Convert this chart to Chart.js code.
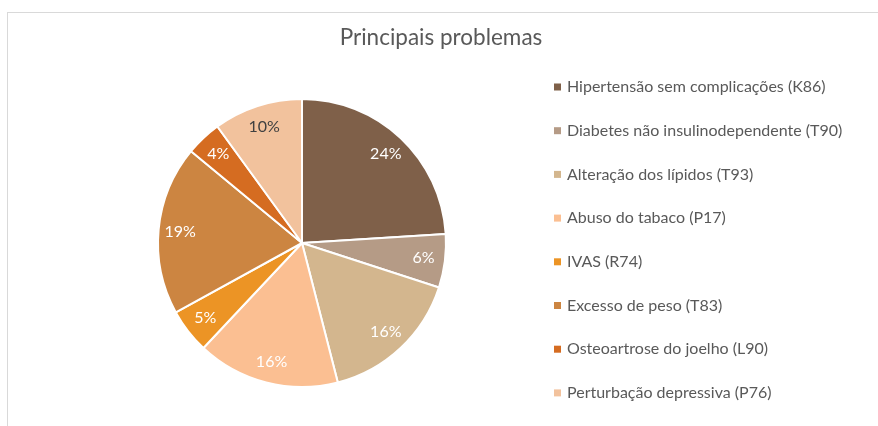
<!DOCTYPE html>
<html>
<head>
<meta charset="utf-8">
<script src="https://cdn.jsdelivr.net/npm/chart.js@4"></script>
<style>
  html, body { margin: 0; padding: 0; background: #fff; }
  #frame { position: absolute; left: 7px; top: 12px; width: 900px; height: 450px;
           border-left: 1px solid #d9d9d9; border-top: 1px solid #d9d9d9; }
  #chart { position: absolute; left: 0; top: 0; }
</style>
</head>
<body>
<div id="frame"></div>
<canvas id="chart" width="878" height="426"></canvas>
<script>
// dados do gráfico
const chartTitle = 'Principais problemas';
const categories = [
    'Hipertensão sem complicações (K86)',
    'Diabetes não insulinodependente (T90)',
    'Alteração dos lípidos (T93)',
    'Abuso do tabaco (P17)',
    'IVAS (R74)',
    'Excesso de peso (T83)',
    'Osteoartrose do joelho (L90)',
    'Perturbação depressiva (P76)'
];
const shares = [24, 6, 16, 16, 5, 19, 4, 10];
const sliceColors = ['#7f6049', '#b59b86', '#d3b68e', '#fbbf92', '#ec9425', '#cc8541', '#d56c21', '#f2c29d'];
const labelColors = ['#ffffff', '#ffffff', '#ffffff', '#ffffff', '#ffffff', '#ffffff', '#ffffff', '#404040'];

const FONT = 'Lato';
const TEXT_GREY = '#595959';

// etiquetas de percentagem dentro das fatias
const pieLabels = {
    id: 'pieLabels',
    afterDatasetsDraw(chart) {
        const ctx = chart.ctx;
        const meta = chart.getDatasetMeta(0);
        const data = chart.data.datasets[0].data;
        const total = data.reduce((a, b) => a + b, 0);
        ctx.save();
        ctx.font = '16px ' + FONT;
        ctx.textAlign = 'center';
        ctx.textBaseline = 'middle';
        meta.data.forEach((arc, i) => {
            const p = arc.getProps(['x', 'y', 'startAngle', 'endAngle', 'outerRadius'], true);
            const mid = (p.startAngle + p.endAngle) / 2;
            const r = p.outerRadius * 0.85;
            ctx.fillStyle = labelColors[i];
            ctx.fillText(Math.round(data[i] / total * 100) + '%', p.x + Math.cos(mid) * r, p.y + Math.sin(mid) * r);
        });
        ctx.restore();
    }
};

// título centrado na imagem inteira e legenda à direita (espaçamento largo como no Excel)
const sideLegend = {
    id: 'sideLegend',
    afterDraw(chart) {
        const ctx = chart.ctx;
        ctx.save();
        ctx.fillStyle = TEXT_GREY;
        ctx.font = '22.5px ' + FONT;
        ctx.textAlign = 'center';
        ctx.textBaseline = 'middle';
        ctx.fillText(chartTitle, chart.width / 2 + 2, 38);

        const left = 554, top = 87, step = 43.7;
        ctx.font = '16px ' + FONT;
        ctx.textAlign = 'left';
        chart.data.labels.forEach((name, i) => {
            const y = top + i * step;
            ctx.fillStyle = chart.data.datasets[0].backgroundColor[i];
            ctx.fillRect(left, y - 3.5, 7, 7);
            ctx.fillStyle = TEXT_GREY;
            ctx.fillText(name, left + 13, y);
        });
        ctx.restore();
    }
};

const ctx = document.getElementById('chart');
new Chart(ctx, {
    type: 'pie',
    data: {
        labels: categories,
        datasets: [{
            data: shares,
            backgroundColor: sliceColors,
            borderColor: '#ffffff',
            borderWidth: 2
        }]
    },
    options: {
        responsive: false,
        animation: false,
        layout: { padding: { top: 98, bottom: 38, left: 10, right: 284 } },
        plugins: {
            title: { display: false },
            legend: { display: false },
            tooltip: { enabled: false }
        }
    },
    plugins: [pieLabels, sideLegend]
});
</script>
</body>
</html>
